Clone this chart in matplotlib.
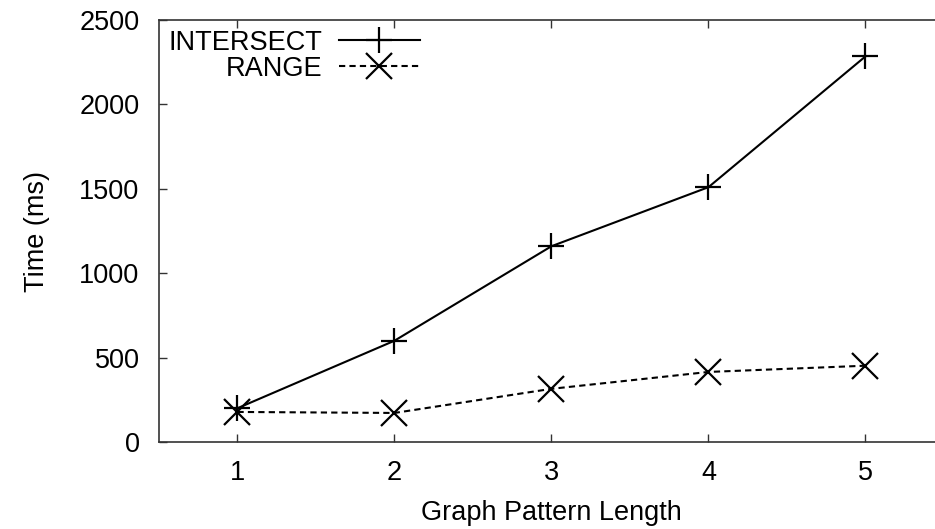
import matplotlib
matplotlib.use("Agg")
import matplotlib.pyplot as plt

plt.rcParams['font.family'] = ['Liberation Sans', 'DejaVu Sans']

# data
lengths = [1, 2, 3, 4, 5]
intersect_ms = [200, 600, 1160, 1510, 2285]
range_ms = [178, 172, 315, 415, 452]

fig = plt.figure(figsize=(9.35, 5.29), dpi=100)
ax = fig.add_axes([0.170, 0.1645, 1.0096 - 0.170, 0.962 - 0.1645])

ax.plot(lengths, intersect_ms, color='black', linewidth=1.5, marker='+',
        markersize=19, markeredgewidth=1.6, label='INTERSECT')
ax.plot(lengths, range_ms, color='black', linewidth=1.5, linestyle=(0, (3, 2)),
        marker='x', markersize=19, markeredgewidth=1.6, label='RANGE')

ax.set_xlim(0.5, 5.5)
ax.set_ylim(0, 2500)
ax.set_xticks(lengths)
ax.set_yticks([0, 500, 1000, 1500, 2000, 2500])

ax.tick_params(direction='in', length=6, width=1, top=True, right=True,
               labelsize=19.5, color='#333333')
ax.tick_params(axis='x', pad=13)
ax.tick_params(axis='y', pad=14)
for s in ax.spines.values():
    s.set_color('#333333')
    s.set_linewidth(1.2)

ax.set_xlabel('Graph Pattern Length', fontsize=19.5, labelpad=10)
ax.set_ylabel('Time (ms)', fontsize=19.5, labelpad=21)

ax.legend(loc='upper left', frameon=False, markerfirst=False, fontsize=19.5,
          handlelength=3.0, handletextpad=0.6, labelspacing=0.0,
          borderaxespad=0.05, borderpad=0.3, numpoints=1)

fig.savefig('out.png', dpi=100)
